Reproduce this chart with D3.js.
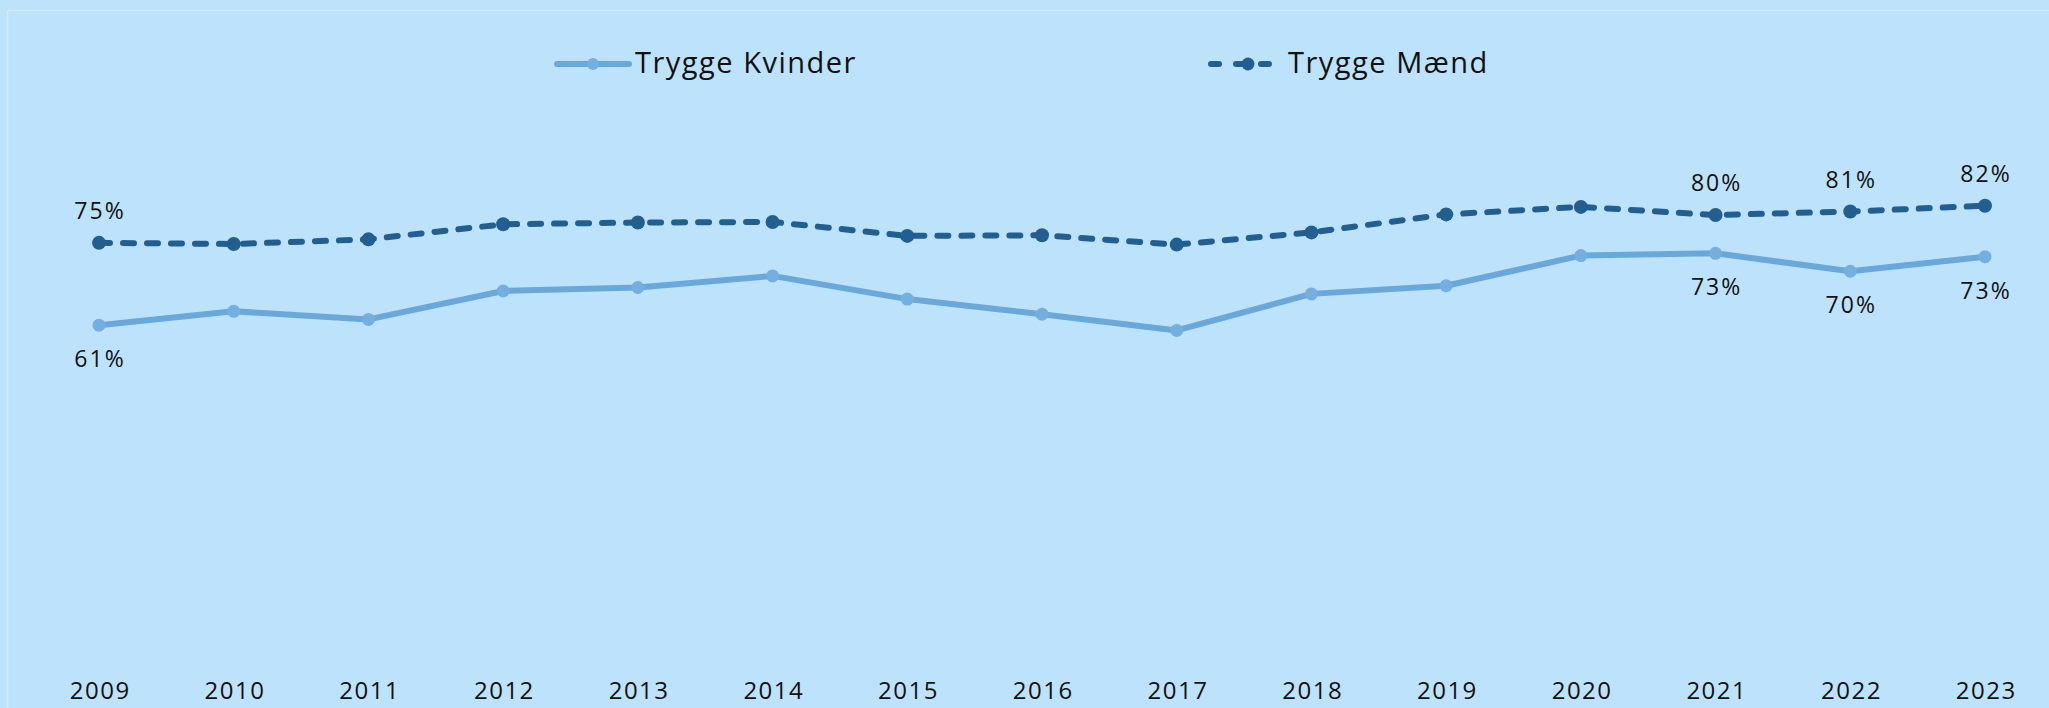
<!DOCTYPE html>
<html>
<head>
<meta charset="utf-8">
<script src="https://cdn.jsdelivr.net/npm/d3@7"></script>
<style>
  html, body { margin: 0; padding: 0; background: #bde3fc; }
  svg { display: block; font-family: 'Open Sans', Lato, sans-serif; }
</style>
</head>
<body>
<svg id="chart" width="2049" height="708"></svg>
<script>
const years = [2009, 2010, 2011, 2012, 2013, 2014, 2015, 2016, 2017, 2018, 2019, 2020, 2021, 2022, 2023];
const kvinder = [61.0, 63.4, 62.0, 66.9, 67.5, 69.5, 65.5, 62.9, 60.1, 66.4, 67.8, 73.0, 73.4, 70.3, 72.8];
const maend = [75.2, 75.0, 75.8, 78.4, 78.7, 78.8, 76.4, 76.5, 74.9, 77.0, 80.1, 81.4, 80.0, 80.6, 81.6];
const labelledYears = [2009, 2021, 2022, 2023];
const seriesNames = ['Trygge Kvinder', 'Trygge Mænd'];

const width = 2049;
const height = 708;
const colors = { kvinder: '#6aa8dc', kvinderDot: '#74afdf', maend: '#235e91' };
const fontFamily = "'Open Sans', Lato, sans-serif";

const svg = d3.select('#chart');

// chart area border (light line, runs off the right and bottom edges)
svg.append('path')
  .attr('d', `M7.5,${height} V10.5 H${width}`)
  .attr('fill', 'none')
  .attr('stroke', '#d2ebfd')
  .attr('stroke-width', 1.5);

const x = d3.scalePoint()
  .domain(years)
  .range([99, 1985]);

const y = d3.scaleLinear()
  .domain([0, 100])
  .range([679, 99]);

const fmt = (v) => `${Math.round(v)}%`;

// x axis labels
svg.append('g')
  .attr('transform', 'translate(0,679)')
  .call(d3.axisBottom(x).tickSize(0).tickPadding(3))
  .call((g) => g.select('.domain').remove())
  .call((g) => g.selectAll('text')
    .attr('fill', '#111')
    .attr('dx', 0.75)
    .style('font-family', fontFamily)
    .style('letter-spacing', '1.5px')
    .style('font-size', '24px'));

const line = d3.line()
  .x((d) => x(d.year))
  .y((d) => y(d.value));

const kData = years.map((year, i) => ({ year, value: kvinder[i] }));
const mData = years.map((year, i) => ({ year, value: maend[i] }));

// Trygge Kvinder
svg.append('path')
  .datum(kData)
  .attr('d', line)
  .attr('fill', 'none')
  .attr('stroke', colors.kvinder)
  .attr('stroke-width', 6)
  .attr('stroke-linejoin', 'round');

svg.append('g')
  .selectAll('circle')
  .data(kData)
  .join('circle')
  .attr('cx', (d) => x(d.year))
  .attr('cy', (d) => y(d.value))
  .attr('r', 6.5)
  .attr('fill', colors.kvinderDot);

// Trygge Mænd
svg.append('path')
  .datum(mData)
  .attr('d', line)
  .attr('fill', 'none')
  .attr('stroke', colors.maend)
  .attr('stroke-width', 6)
  .attr('stroke-linecap', 'round')
  .attr('stroke-dasharray', '11,13');

svg.append('g')
  .selectAll('circle')
  .data(mData)
  .join('circle')
  .attr('cx', (d) => x(d.year))
  .attr('cy', (d) => y(d.value))
  .attr('r', 7)
  .attr('fill', colors.maend);

// data labels
const labelStyle = (sel) => sel
  .attr('text-anchor', 'middle')
  .attr('dx', 1)
  .attr('fill', '#111')
  .style('letter-spacing', '2px')
  .style('font-size', '23px');

svg.append('g')
  .selectAll('text')
  .data(mData.filter((d) => labelledYears.includes(d.year)))
  .join('text')
  .attr('x', (d) => x(d.year))
  .attr('y', (d) => y(d.value) - 24)
  .text((d) => fmt(d.value))
  .call(labelStyle);

svg.append('g')
  .selectAll('text')
  .data(kData.filter((d) => labelledYears.includes(d.year)))
  .join('text')
  .attr('x', (d) => x(d.year))
  .attr('y', (d) => y(d.value) + 42)
  .text((d) => fmt(d.value))
  .call(labelStyle);

// legend
const legend = svg.append('g');
const legendItems = [
  { name: seriesNames[0], x0: 557, x1: 629, tx: 635, color: colors.kvinder, dot: colors.kvinderDot, dash: null, r: 6 },
  { name: seriesNames[1], x0: 1211, x1: 1275, tx: 1288, color: colors.maend, dot: colors.maend, dash: '8,17', r: 6.5 },
];
legendItems.forEach((d) => {
  legend.append('line')
    .attr('x1', d.x0).attr('x2', d.x1)
    .attr('y1', 64).attr('y2', 64)
    .attr('stroke', d.color)
    .attr('stroke-width', 6)
    .attr('stroke-linecap', 'round')
    .attr('stroke-dasharray', d.dash);
  legend.append('circle')
    .attr('cx', (d.x0 + d.x1) / 2 + (d.dash ? 5 : 0))
    .attr('cy', 64)
    .attr('r', d.r)
    .attr('fill', d.dot);
  legend.append('text')
    .attr('x', d.tx)
    .attr('y', 73)
    .attr('fill', '#111')
    .style('letter-spacing', '1.5px')
    .style('font-size', '29px')
    .text(d.name);
});
</script>
</body>
</html>
